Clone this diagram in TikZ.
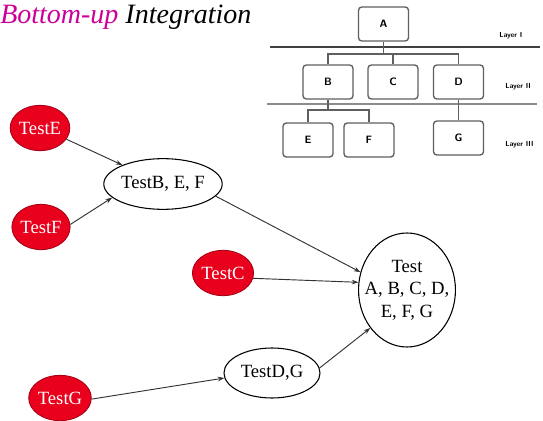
\documentclass[tikz,border=0pt]{standalone}
\usepackage{fontspec}
\setmainfont{Liberation Serif}
\usetikzlibrary{shapes.geometric,arrows.meta}
\definecolor{titlemag}{RGB}{204,0,153}
\definecolor{testred}{RGB}{232,0,28}
\definecolor{boxgray}{RGB}{95,95,95}
\tikzset{
  redtest/.style={ellipse, fill=testred, draw=testred!70!black, line width=0.6pt,
    minimum width=42pt, minimum height=34pt, inner sep=0pt, text=white,
    font=\fontsize{14}{16}\selectfont},
  whitetest/.style={ellipse, draw=black, line width=0.8pt, fill=white,
    inner sep=0pt, font=\fontsize{14}{17}\selectfont, align=center},
  flow/.style={draw=black!80, line width=0.7pt, -{Stealth[length=5pt,width=3.5pt]}},
  modbox/.style={draw=boxgray, line width=1pt, rounded corners=2.5pt, fill=white,
    minimum width=37.5pt, minimum height=25.5pt, inner sep=0pt,
    font=\sffamily\bfseries\fontsize{8}{9}\selectfont},
  tree/.style={draw=boxgray, line width=1pt},
  layerline/.style={line width=1.1pt},
  layerlabel/.style={anchor=west, inner sep=0pt,
    font=\sffamily\bfseries\fontsize{5.5}{6}\selectfont}
}
\begin{document}
\begin{tikzpicture}[x=0.75pt,y=-0.75pt]
\useasboundingbox (0,0) rectangle (543,421);

% heading
\node[anchor=base west, inner sep=0pt, font=\itshape\fontsize{21}{24}\selectfont]
  (title) at (0,23) {\textcolor{titlemag}{Bottom-up} Integration};

% module hierarchy
\draw[layerline, draw=black!75] (270,47) coordinate (l1a) -- (540,47) coordinate (l1b);
\draw[layerline, draw=black!45] (267,104) coordinate (l2a) -- (537,104) coordinate (l2b);

\node[modbox] (hA) at (383.5,24) {A};
\node[modbox] (hB) at (328,82) {B};
\node[modbox] (hC) at (393,82) {C};
\node[modbox] (hD) at (458.5,82) {D};
\node[modbox] (hE) at (308,140) {E};
\node[modbox] (hF) at (369,140) {F};
\node[modbox] (hG) at (458.5,138) {G};

\coordinate (busA) at (383.5,54);
\coordinate (busB) at (328,110);
\draw[tree] (hA.south) -- (busA);
\draw[tree] (hB.north) |- (busA) -| (hD.north);
\draw[tree] (hC.north) -- (hC.north |- busA);
\draw[tree] (hB.south) -- (busB);
\draw[tree] (hE.north) |- (busB) -| (hF.north);
\draw[tree] (hD.south) -- (hG.north);

\node[layerlabel] (lay1) at (499,36) {Layer I};
\node[layerlabel] (lay2) at (505,87) {Layer II};
\node[layerlabel] (lay3) at (505,145) {Layer III};

% test ellipses
\node[redtest] (tE) at (40,128) {TestE};
\node[redtest] (tF) at (41,227) {TestF};
\node[redtest] (tC) at (223,273) {TestC};
\node[redtest] (tG) at (60,398) {TestG};
\node[whitetest, minimum width=72pt, minimum height=38pt] (tBEF) at (163,184) {TestB, E, F};
\node[whitetest, minimum width=72pt, minimum height=37.5pt] (tDG) at (272,373) {TestD,G};
\node[whitetest, inner xsep=-6pt, minimum width=70.5pt, minimum height=85.5pt] (tAll) at (407,290)
  {Test\\A, B, C, D,\\E, F, G};

% integration order
\draw[flow] (tE.-23) -- (tBEF.155);
\draw[flow] (tF.5) -- (tBEF.195);
\draw[flow] (tBEF.-13) -- (tAll.159);
\draw[flow] (tC.-10) -- (tAll.171);
\draw[flow] (tDG.6) -- (tAll.226);
\draw[flow] (tG.-2) -- (tDG.186);
\end{tikzpicture}
\end{document}
